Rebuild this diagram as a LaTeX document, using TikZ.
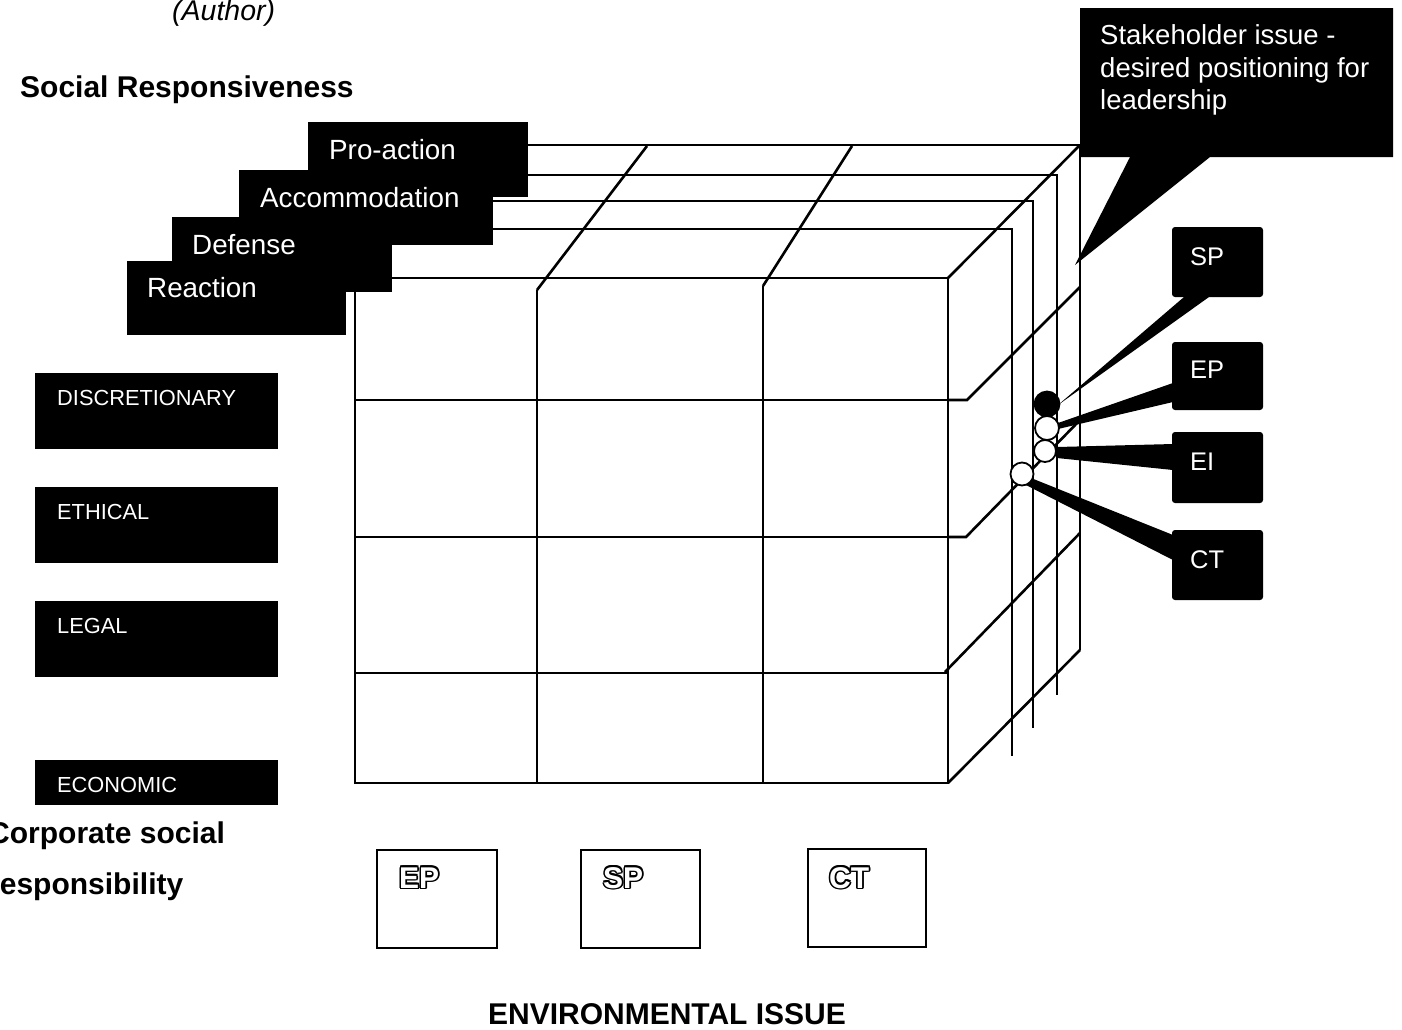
\documentclass[tikz,border=0pt]{standalone}
\usepackage{fontspec}
\setmainfont{Liberation Sans}
\newcommand\fsz[1]{\fontsize{#1}{#1}\selectfont}
% white letters with a black rim
\newcommand\hollowtext[1]{\leavevmode
  \rlap{\kern-1.7pt #1}\rlap{\kern1.7pt #1}%
  \rlap{\raisebox{1.7pt}{#1}}\rlap{\raisebox{-1.7pt}{#1}}%
  \rlap{\kern-1.2pt\raisebox{1.2pt}{#1}}\rlap{\kern1.2pt\raisebox{1.2pt}{#1}}%
  \rlap{\kern-1.2pt\raisebox{-1.2pt}{#1}}\rlap{\kern1.2pt\raisebox{-1.2pt}{#1}}%
  \textcolor{white}{#1}}
\begin{document}
\begin{tikzpicture}[x=1pt,y=-1pt,
  gridline/.style={draw=black, line width=2.6pt, line join=miter},
  blk/.style={fill=black},
  wlabel/.style={text=white, anchor=base west, inner sep=0pt},
  blabel/.style={text=black, anchor=base west, inner sep=0pt},
  issuebox/.style={draw=black, line width=2.4pt, fill=white}]
\useasboundingbox (0,0) rectangle (1402,1029);

% ---------- depth slices behind the front face ----------
\draw[gridline] (528,145) -- (1080,145) -- (1080,650);
\draw[gridline] (528,175) -- (1057,175) -- (1057,695);
\draw[gridline] (493,201) -- (1033,201) -- (1033,728);
\draw[gridline] (493,229) -- (1012,229) -- (1012,756);

% ---------- top face ----------
\draw[gridline] (537,290) -- (647,146);
\draw[gridline] (763,286) -- (852,146);
\draw[gridline] (948,278) -- (1080,145);

% ---------- right face ----------
\draw[gridline] (948,400) -- (967,400) -- (1080,287);
\draw[gridline] (948,537) -- (966,537) -- (1080,420);
\draw[gridline] (945,672) -- (1080,533);
\draw[gridline] (948,783) -- (1080,650);

% ---------- front face ----------
\draw[gridline] (392,278) -- (948,278) -- (948,783) -- (355,783) -- (355,292);
\draw[gridline] (537,290) -- (537,783);
\draw[gridline] (763,286) -- (763,783);
\draw[gridline] (355,400) -- (948,400);
\draw[gridline] (355,537) -- (948,537);
\draw[gridline] (355,673) -- (948,673);

% ---------- social responsiveness steps ----------
\fill[blk] (308,122) rectangle (528,197);
\fill[blk] (239,170) rectangle (493,245);
\fill[blk] (172,217) rectangle (392,292);
\fill[blk] (127,261) rectangle (346,335);
\node[wlabel, font=\fsz{27.8}] (proaction) at (329,159) {Pro-action};
\node[wlabel, font=\fsz{27.8}] (accommodation) at (260,207) {Accommodation};
\node[wlabel, font=\fsz{27.8}] (defense) at (192,254) {Defense};
\node[wlabel, font=\fsz{27.8}] (reaction) at (147,297) {Reaction};

% ---------- headings ----------
\node[blabel, font=\fsz{28.5}\itshape] (author) at (172,20) {(Author)};
\node[blabel, font=\fsz{30}\bfseries] (socresp) at (20,97) {Social Responsiveness};
\node[blabel, font=\fsz{30}\bfseries] (csr1) at (-12,843) {Corporate social};
\node[blabel, font=\fsz{30}\bfseries] (csr2) at (-12,894) {responsibility};
\node[anchor=base, inner sep=0pt, font=\fsz{30}\bfseries] (envissue) at (667,1024) {ENVIRONMENTAL ISSUE};

% ---------- corporate social responsibility levels ----------
\fill[blk] (35,373) rectangle (278,449);
\fill[blk] (35,487) rectangle (278,563);
\fill[blk] (35,601) rectangle (278,677);
\fill[blk] (35,760) rectangle (278,805);
\node[wlabel, font=\fsz{21.8}] (discretionary) at (57,405) {DISCRETIONARY};
\node[wlabel, font=\fsz{21.8}] (ethical) at (57,519) {ETHICAL};
\node[wlabel, font=\fsz{21.8}] (legal) at (57,633) {LEGAL};
\node[wlabel, font=\fsz{21.8}] (economic) at (57,792) {ECONOMIC};

% ---------- environmental issue boxes ----------
\draw[issuebox] (377,850) rectangle (497,948);
\draw[issuebox] (581,850) rectangle (700,948);
\draw[issuebox] (808,849) rectangle (926,947);
\node[blabel, font=\fsz{30}\bfseries] (envep) at (399,888) {\hollowtext{EP}};
\node[blabel, font=\fsz{30}\bfseries] (envsp) at (603,888) {\hollowtext{SP}};
\node[blabel, font=\fsz{30}\bfseries] (envct) at (829,888) {\hollowtext{CT}};

% ---------- stakeholder callout ----------
\fill[blk] (1080,8) -- (1393,8) -- (1393,157) -- (1210,157) -- (1075,265)
  -- (1130,157) -- (1080,157) -- cycle;
\node[wlabel, font=\fsz{27.5}] (callout1) at (1100,44) {Stakeholder issue -};
\node[wlabel, font=\fsz{27.5}] (callout2) at (1100,77) {desired positioning for};
\node[wlabel, font=\fsz{27.5}] (callout3) at (1100,109) {leadership};

% ---------- stakeholder markers ----------
\fill[blk] (1184,297) -- (1209,297) -- (1058,405) -- cycle;
\fill[blk] (1173,383) -- (1173,402) -- (1058,429) -- (1058,423) -- cycle;
\fill[blk] (1173,444) -- (1173,470) -- (1057,458) -- (1057,447) -- cycle;
\fill[blk] (1173,535) -- (1173,560) -- (1022,483) -- (1026,476) -- cycle;

\fill[blk, rounded corners=3pt] (1172,227) rectangle (1263,297);
\fill[blk, rounded corners=3pt] (1172,342) rectangle (1263,410);
\fill[blk, rounded corners=3pt] (1172,432) rectangle (1263,503);
\fill[blk, rounded corners=3pt] (1172,530) rectangle (1263,600);
\node[wlabel, font=\fsz{25.5}] (tagsp) at (1190,265) {SP};
\node[wlabel, font=\fsz{25.5}] (tagep) at (1190,378) {EP};
\node[wlabel, font=\fsz{25.5}] (tagei) at (1190,470) {EI};
\node[wlabel, font=\fsz{25.5}] (tagct) at (1190,568) {CT};

\draw[line width=1.8pt, fill=black] (1047,404) circle[radius=12.5];
\draw[line width=1.8pt, fill=white] (1047,428) circle[radius=12];
\draw[line width=1.8pt, fill=white] (1045,451) circle[radius=11];
\draw[line width=1.8pt, fill=white] (1022,474) circle[radius=11.5];
\end{tikzpicture}
\end{document}
